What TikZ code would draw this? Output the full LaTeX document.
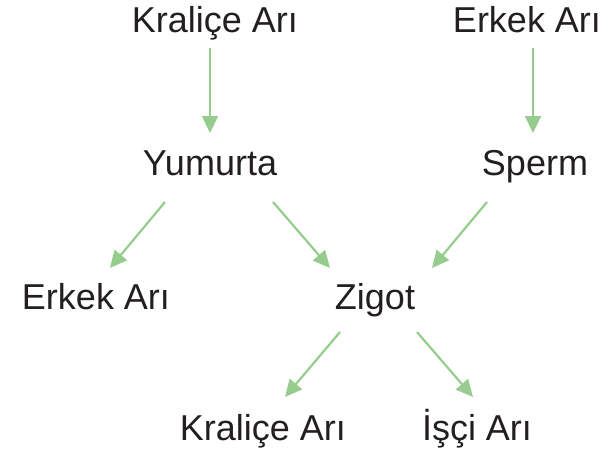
\documentclass[tikz,border=0pt]{standalone}
\usepackage{fontspec}
\setmainfont{Liberation Sans}
\usetikzlibrary{arrows.meta}
\definecolor{arrgreen}{RGB}{150,205,142}
\definecolor{txt}{RGB}{35,31,32}
\tikzset{
  lbl/.style={anchor=base, inner sep=0pt, text=txt, font=\fontsize{36}{40}\selectfont},
  arr/.style={draw=arrgreen, line width=2.2pt, -{Triangle[length=17pt,width=16pt]}}
}
\begin{document}
\begin{tikzpicture}[x=1pt,y=-1pt]
  \useasboundingbox (0,0) rectangle (606,455);
  % generations, placed by baseline
  \node[lbl] (kq)  at (215,32)  {Kraliçe Arı};
  \node[lbl] (ek)  at (527,32)  {Erkek Arı};
  \node[lbl] (yum) at (210,175) {Yumurta};
  \node[lbl] (sp)  at (535,175) {Sperm};
  \node[lbl] (ek2) at (96,309)  {Erkek Arı};
  \node[lbl] (zig) at (375,309) {Zigot};
  \node[lbl] (kq2) at (263,440) {Kraliçe Arı};
  \node[lbl] (isc) at (477,440) {İşçi Arı};
  % descent arrows
  \draw[arr] ([shift={(-5,16)}]kq.base)  -- ([shift={(0,-42)}]yum.base);
  \draw[arr] ([shift={(6,16)}]ek.base)   -- ([shift={(-2,-42)}]sp.base);
  \draw[arr] ([shift={(-45,27)}]yum.base) -- ([shift={(14,-41)}]ek2.base);
  \draw[arr] ([shift={(63,27)}]yum.base)  -- ([shift={(-45,-41)}]zig.base);
  \draw[arr] ([shift={(-48,27)}]sp.base)  -- ([shift={(57,-41)}]zig.base);
  \draw[arr] ([shift={(-35,23)}]zig.base) -- ([shift={(22,-43)}]kq2.base);
  \draw[arr] ([shift={(42,23)}]zig.base)  -- ([shift={(-4,-43)}]isc.base);
\end{tikzpicture}
\end{document}
